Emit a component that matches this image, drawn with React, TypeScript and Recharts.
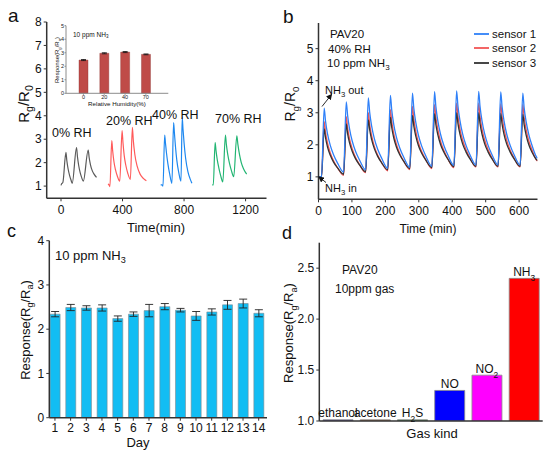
import React from "react";
import {
  LineChart,
  Line,
  BarChart,
  Bar,
  XAxis,
  YAxis,
  ErrorBar,
  Cell,
  LabelList,
  Legend,
} from "recharts";

const FONT = "'Liberation Sans', Arial, sans-serif";
const AXIS = "#333";

// ---- panel a : Rg/R0 vs time at four humidities
const rh0Time = [0, 4, 12, 32, 38, 46, 56, 65, 73, 101, 107, 115, 125, 135, 145, 177, 183, 192, 203, 216, 231];
const rh0Val = [1.03, 1.1, 1.15, 2.44, 2.08, 1.74, 1.45, 1.26, 1.12, 2.64, 2.25, 1.88, 1.56, 1.35, 1.21, 2.54, 2.22, 1.9, 1.66, 1.5, 1.37];
const rh20Time = [307, 312, 318, 330, 336, 344, 354, 366, 382, 397, 403, 411, 421, 434, 451, 464, 470, 480, 495, 515, 535, 555];
const rh20Val = [1.1, 1.05, 0.98, 2.94, 2.5, 2.05, 1.7, 1.43, 1.21, 3.37, 2.85, 2.3, 1.9, 1.55, 1.29, 3.51, 2.95, 2.35, 1.85, 1.5, 1.33, 1.23];
const rh40Time = [648, 656, 663, 674, 679, 686, 695, 707, 721, 732, 737, 744, 753, 765, 780, 788, 793, 800, 810, 825, 840, 851];
const rh40Val = [1.05, 1.05, 1.0, 3.18, 2.85, 2.4, 1.95, 1.5, 1.12, 3.71, 3.3, 2.7, 2.1, 1.6, 1.21, 3.93, 3.45, 2.85, 2.2, 1.62, 1.3, 1.12];
const rh70Time = [983, 990, 1002, 1008, 1016, 1026, 1038, 1052, 1069, 1075, 1084, 1095, 1108, 1123, 1143, 1150, 1160, 1172, 1188, 1207];
const rh70Val = [1.05, 1.05, 2.86, 2.5, 2.12, 1.78, 1.45, 1.18, 3.18, 2.78, 2.35, 1.98, 1.66, 1.4, 3.14, 2.78, 2.36, 2.0, 1.72, 1.51];
const aTicksX = [0, 400, 800, 1200];
const aTicksY = [1, 2, 3, 4, 5, 6, 7, 8];

// inset of a
const insetRh = ["0", "20", "40", "70"];
const insetResp = [2.46, 2.96, 3.05, 2.88];
const insetErr = [0.04, 0.04, 0.04, 0.03];

// ---- panel b : three sensors, repeated cycles
const bTime = [
  0, 9,
  17, 21, 27, 35, 45, 57, 75,
  83, 87, 93, 101, 111, 123, 141,
  149, 153, 159, 167, 177, 189, 207,
  215, 219, 225, 233, 243, 255, 273,
  281, 285, 291, 299, 309, 321, 339,
  347, 351, 357, 365, 375, 387, 405,
  413, 417, 423, 431, 441, 453, 471,
  479, 483, 489, 497, 507, 519, 537,
  545, 549, 555, 563, 573, 585, 603,
  611, 615, 621, 629, 639, 651, 655,
];
const sensor1 = [
  1.0, 1.0,
  3.14, 2.74, 2.34, 1.99, 1.69, 1.43, 1.15,
  3.34, 2.92, 2.49, 2.11, 1.79, 1.52, 1.22,
  3.46, 3.02, 2.58, 2.19, 1.86, 1.58, 1.27,
  3.54, 3.09, 2.64, 2.24, 1.9, 1.61, 1.3,
  3.61, 3.15, 2.7, 2.29, 1.95, 1.65, 1.33,
  3.66, 3.2, 2.74, 2.33, 1.98, 1.68, 1.36,
  3.68, 3.22, 2.76, 2.34, 1.99, 1.69, 1.37,
  3.67, 3.21, 2.75, 2.34, 1.99, 1.69, 1.37,
  3.65, 3.19, 2.74, 2.33, 1.99, 1.69, 1.37,
  3.61, 3.16, 2.72, 2.32, 1.97, 1.64, 1.58,
];
const sensor2 = [
  1.0, 1.0,
  2.72, 2.39, 2.05, 1.75, 1.5, 1.28, 1.05,
  2.88, 2.53, 2.18, 1.87, 1.6, 1.38, 1.13,
  3.0, 2.64, 2.28, 1.95, 1.68, 1.44, 1.19,
  3.1, 2.73, 2.35, 2.02, 1.73, 1.49, 1.23,
  3.2, 2.81, 2.42, 2.07, 1.78, 1.53, 1.26,
  3.25, 2.86, 2.47, 2.11, 1.82, 1.56, 1.29,
  3.3, 2.9, 2.5, 2.15, 1.85, 1.59, 1.31,
  3.3, 2.9, 2.5, 2.15, 1.85, 1.59, 1.31,
  3.28, 2.89, 2.49, 2.14, 1.84, 1.59, 1.31,
  3.25, 2.86, 2.47, 2.12, 1.83, 1.54, 1.49,
];
const sensor3 = [
  1.0, 1.0,
  2.5, 2.22, 1.93, 1.68, 1.46, 1.28, 1.08,
  2.65, 2.35, 2.05, 1.79, 1.56, 1.37, 1.16,
  2.78, 2.47, 2.16, 1.88, 1.64, 1.44, 1.22,
  2.86, 2.54, 2.22, 1.93, 1.69, 1.48, 1.26,
  2.92, 2.59, 2.27, 1.97, 1.73, 1.52, 1.29,
  2.97, 2.64, 2.31, 2.01, 1.77, 1.55, 1.32,
  3.0, 2.67, 2.33, 2.03, 1.78, 1.56, 1.33,
  3.0, 2.67, 2.33, 2.03, 1.78, 1.56, 1.33,
  2.98, 2.65, 2.32, 2.02, 1.78, 1.56, 1.33,
  2.96, 2.63, 2.3, 2.0, 1.76, 1.55, 1.51,
];
const bTicksX = [0, 100, 200, 300, 400, 500, 600];
const bTicksY = [1, 2, 3, 4, 5];

// ---- panel c : 14 days stability
const days = [1, 2, 3, 4, 5, 6, 7, 8, 9, 10, 11, 12, 13, 14];
const dayResp = [2.34, 2.49, 2.48, 2.48, 2.24, 2.34, 2.42, 2.51, 2.43, 2.3, 2.39, 2.55, 2.58, 2.36];
const dayErr = [0.06, 0.07, 0.05, 0.07, 0.06, 0.05, 0.14, 0.07, 0.04, 0.1, 0.07, 0.1, 0.1, 0.08];
const cTicksY = [0, 1, 2, 3, 4];

// ---- panel d : selectivity
const gasKinds = ["ethanol", "acetone", "H2S", "NO", "NO2", "NH3"];
const gasResp = [1.012, 1.012, 1.012, 1.3, 1.45, 2.4];
const gasColors = ["#3d2fa8", "#b8662e", "#2f8f3f", "#0000ff", "#ff00ff", "#ff0000"];
const dTicksY = [1.0, 1.5, 2.0, 2.5];

const zip = (ts: number[], vs: number[]) => ts.map((t, i) => ({ t, v: vs[i] }));

const aSeries = [
  { name: "0% RH", color: "#5a5a5a", rows: zip(rh0Time, rh0Val) },
  { name: "20% RH", color: "#ff5a5a", rows: zip(rh20Time, rh20Val) },
  { name: "40% RH", color: "#1e88f0", rows: zip(rh40Time, rh40Val) },
  { name: "70% RH", color: "#22b573", rows: zip(rh70Time, rh70Val) },
];
const insetRows = insetRh.map((rh, i) => ({ rh, v: insetResp[i], err: insetErr[i] }));
const bRows = bTime.map((t, i) => ({ t, s1: sensor1[i], s2: sensor2[i], s3: sensor3[i] }));
const bSeries = [
  { key: "s2", name: "sensor 2", color: "#f25555" },
  { key: "s3", name: "sensor 3", color: "#333333" },
  { key: "s1", name: "sensor 1", color: "#2f80f8" },
];
const legendOrder = ["s1", "s2", "s3"];
const cRows = days.map((day, i) => ({ day, v: dayResp[i], err: dayErr[i] }));
const dRows = gasKinds.map((gas, i) => ({ gas, v: gasResp[i] }));

const tickStyle = { fontSize: 12, fill: "#111" };
const axisLine = { stroke: AXIS, strokeWidth: 1.5 };
const frameProps = { tick: false, tickLine: false, axisLine };

const chem = (s: string) =>
  s.split(/(\d+)/).map((p, i) =>
    /\d/.test(p) ? (
      <tspan key={i} baselineShift="sub" fontSize="70%">
        {p}
      </tspan>
    ) : (
      p
    )
  );

const Sub = ({ children }: { children: React.ReactNode }) => (
  <tspan baselineShift="sub" fontSize="70%">
    {children}
  </tspan>
);

type TProps = {
  x: number;
  y: number;
  size: number;
  anchor?: "start" | "middle" | "end";
  rotate?: boolean;
  base?: boolean;
  children: React.ReactNode;
};
const T = ({ x, y, size, anchor = "start", rotate, base, children }: TProps) => (
  <text
    x={x}
    y={y}
    fontSize={size}
    textAnchor={anchor}
    dominantBaseline={base ? "auto" : "central"}
    fill="#111"
    transform={rotate ? `rotate(-90 ${x} ${y})` : undefined}
  >
    {children}
  </text>
);

const renderGasLabel = (props: any) => {
  const { x, y, width, value } = props;
  return (
    <text x={Number(x) + Number(width) / 2} y={Number(y) - 2.5} textAnchor="middle" fontSize={12} fill="#111">
      {chem(String(value))}
    </text>
  );
};

function PanelA() {
  return (
    <LineChart width={275} height={220} margin={{ top: 22, right: 8.5, bottom: 1.7, left: 0 }}>
      <XAxis dataKey="t" type="number" domain={[-93, 1336]} ticks={aTicksX} allowDataOverflow
        height={20} tick={tickStyle} tickSize={3} tickMargin={4} axisLine={axisLine} tickLine={{ stroke: AXIS }} />
      <YAxis type="number" domain={[0.48, 8]} ticks={aTicksY} allowDataOverflow width={46.7}
        tick={tickStyle} tickSize={3} tickMargin={2} axisLine={axisLine} tickLine={{ stroke: AXIS }} />
      <XAxis xAxisId="top" orientation="top" dataKey="t" type="number" domain={[-93, 1336]} height={0} {...frameProps} />
      <YAxis yAxisId="r" orientation="right" type="number" domain={[0.48, 8]} width={0} {...frameProps} />
      {aSeries.map((s) => (
        <Line key={s.name} data={s.rows} dataKey="v" name={s.name} type="monotoneX" stroke={s.color}
          strokeWidth={1.2} dot={false} isAnimationActive={false} />
      ))}
    </LineChart>
  );
}

function Inset() {
  const frame = { stroke: "#8c8c8c", strokeWidth: 1 };
  const small = { fontSize: 5.5, fill: "#222" };
  return (
    <BarChart width={122} height={90} data={insetRows} margin={{ top: 5.7, right: 3.7, bottom: 8.7, left: 0 }}>
      <XAxis dataKey="rh" padding={{ left: 7, right: 12 }} height={8} tick={small} tickSize={1.5}
        tickMargin={0} axisLine={frame} tickLine={{ stroke: "#8c8c8c" }} />
      <YAxis type="number" domain={[0, 5]} ticks={[0, 1, 2, 3, 4, 5]} width={16} tick={small}
        tickSize={1.5} tickMargin={0.5} axisLine={frame} tickLine={{ stroke: "#8c8c8c" }} />
      <XAxis xAxisId="top" orientation="top" dataKey="rh" height={0} tick={false} tickLine={false} axisLine={frame} />
      <YAxis yAxisId="r" orientation="right" domain={[0, 5]} width={0} tick={false} tickLine={false} axisLine={frame} />
      <Bar dataKey="v" barSize={9} fill="#bf4b48" stroke="#8e3432" strokeWidth={0.4} isAnimationActive={false}>
        <ErrorBar dataKey="err" width={2.5} stroke="#111" strokeWidth={0.8} direction="y" />
      </Bar>
    </BarChart>
  );
}

function PanelB() {
  return (
    <LineChart width={275} height={220} data={bRows} margin={{ top: 23, right: 12.5, bottom: 0.7, left: 0 }}>
      <XAxis dataKey="t" type="number" domain={[0, 655]} ticks={bTicksX} allowDataOverflow height={20}
        tick={tickStyle} tickSize={3} tickMargin={4} axisLine={axisLine} tickLine={{ stroke: AXIS }} />
      <YAxis type="number" domain={[0.3, 5.8]} ticks={bTicksY} allowDataOverflow width={43.5}
        tick={tickStyle} tickSize={3} tickMargin={2} axisLine={axisLine} tickLine={{ stroke: AXIS }} />
      <XAxis xAxisId="top" orientation="top" dataKey="t" type="number" domain={[0, 655]} height={0} {...frameProps} />
      <YAxis yAxisId="r" orientation="right" type="number" domain={[0.3, 5.8]} width={0} {...frameProps} />
      <Legend
        layout="vertical"
        align="center"
        verticalAlign="middle"
        wrapperStyle={{ top: 26.5, left: 199, width: 76, height: 44 }}
        content={() => (
          <div style={{ fontFamily: FONT, fontSize: 11.5, color: "#111" }}>
            {legendOrder.map((k) => {
              const s = bSeries.find((b) => b.key === k)!;
              return (
                <div key={k} style={{ display: "flex", alignItems: "center", height: 14.5 }}>
                  <svg width={15} height={6} style={{ marginRight: 3 }}>
                    <line x1={0} y1={3} x2={15} y2={3} stroke={s.color} strokeWidth={1.8} />
                  </svg>
                  {s.name}
                </div>
              );
            })}
          </div>
        )}
      />
      {bSeries.map((s) => (
        <Line key={s.key} dataKey={s.key} name={s.name} type="monotoneX" stroke={s.color}
          strokeWidth={1.3} dot={false} isAnimationActive={false} />
      ))}
    </LineChart>
  );
}

function PanelC() {
  return (
    <BarChart width={275} height={235} data={cRows} margin={{ top: 20.7, right: 8, bottom: 17.3, left: 0 }}>
      <XAxis dataKey="day" type="number" domain={[0.64, 14.53]} ticks={days} interval={0} allowDataOverflow
        height={20} tick={tickStyle} tickSize={3} tickMargin={3} axisLine={axisLine} tickLine={{ stroke: AXIS }} />
      <YAxis type="number" domain={[0, 4]} ticks={cTicksY} allowDataOverflow width={49.3}
        tick={tickStyle} tickSize={3} tickMargin={2} axisLine={axisLine} tickLine={{ stroke: AXIS }} />
      <XAxis xAxisId="top" orientation="top" dataKey="day" type="number" domain={[0.64, 14.53]} height={0} {...frameProps} />
      <YAxis yAxisId="r" orientation="right" type="number" domain={[0, 4]} width={0} {...frameProps} />
      <Bar dataKey="v" barSize={10} fill="#12bdf3" stroke="#7d8a90" strokeWidth={0.6} isAnimationActive={false}>
        <ErrorBar dataKey="err" width={4} stroke="#222" strokeWidth={0.9} direction="y" />
      </Bar>
    </BarChart>
  );
}

function PanelD() {
  return (
    <BarChart width={275} height={235} data={dRows} barCategoryGap="10%"
      margin={{ top: 22.7, right: 7.3, bottom: 14, left: 0 }}>
      <XAxis dataKey="gas" height={20} tick={false} tickLine={false} axisLine={axisLine} />
      <YAxis type="number" domain={[1, 2.75]} ticks={dTicksY} allowDataOverflow width={44.3}
        tickFormatter={(v: number) => v.toFixed(1)} tick={tickStyle} tickSize={3} tickMargin={2}
        axisLine={axisLine} tickLine={{ stroke: AXIS }} />
      <XAxis xAxisId="top" orientation="top" dataKey="gas" height={0} {...frameProps} />
      <YAxis yAxisId="r" orientation="right" type="number" domain={[1, 2.75]} width={0} {...frameProps} />
      <Bar dataKey="v" stroke="#8a8a8a" strokeWidth={0.8} isAnimationActive={false}>
        {dRows.map((r, i) => (
          <Cell key={r.gas} fill={gasColors[i]} />
        ))}
        <LabelList dataKey="gas" content={renderGasLabel} />
      </Bar>
    </BarChart>
  );
}

function Overlay() {
  return (
    <svg width={550} height={455} style={{ position: "absolute", left: 0, top: 0, pointerEvents: "none" }} fontFamily={FONT}>
      <defs>
        <marker id="arr" markerWidth={6} markerHeight={6} refX={5} refY={3} orient="auto" markerUnits="userSpaceOnUse">
          <path d="M0,0 L6,3 L0,6 z" fill="#111" />
        </marker>
      </defs>
      {/* panel letters */}
      <T x={8} y={21.7} size={19} base>a</T>
      <T x={283} y={23} size={19} base>b</T>
      <T x={7} y={237} size={18} base>c</T>
      <T x={282} y={238.5} size={18} base>d</T>

      {/* a */}
      <T x={23} y={104} size={15} anchor="middle" rotate>
        R<Sub>g</Sub>/R<Sub>0</Sub>
      </T>
      <T x={156} y={227} size={13} anchor="middle">Time(min)</T>
      <T x={52} y={133} size={12.5}>0% RH</T>
      <T x={106} y={121} size={12.5}>20% RH</T>
      <T x={152} y={115} size={12.5}>40% RH</T>
      <T x={215} y={119} size={12.5}>70% RH</T>
      <T x={73} y={34} size={6.5}>
        10 ppm NH<Sub>3</Sub>
      </T>
      <T x={117} y={103.6} size={6.2} anchor="middle">Relative Humidity(%)</T>
      <T x={56.7} y={60} size={6} anchor="middle" rotate>
        Response(R<Sub>g</Sub>/R<Sub>a</Sub>)
      </T>

      {/* b */}
      <T x={290} y={104} size={14} anchor="middle" rotate>
        R<Sub>g</Sub>/R<Sub>0</Sub>
      </T>
      <T x={330} y={34} size={11.5}>PAV20</T>
      <T x={328} y={49} size={11.5}>40% RH</T>
      <T x={327} y={63} size={11.5}>
        10 ppm NH<Sub>3</Sub>
      </T>
      <T x={325} y={90} size={11}>
        NH<Sub>3</Sub> out
      </T>
      <T x={325} y={188} size={11}>
        NH<Sub>3</Sub> in
      </T>
      <line x1={322} y1={106.5} x2={331.5} y2={94.5} stroke="#111" strokeWidth={0.9} markerEnd="url(#arr)" />
      <line x1={326} y1={182.5} x2={319} y2={177} stroke="#111" strokeWidth={0.9} markerEnd="url(#arr)" />
      <T x={428} y={229} size={12} anchor="middle">Time (min)</T>

      {/* c */}
      <T x={25} y={330} size={13} anchor="middle" rotate>
        Response(R<Sub>g</Sub>/R<Sub>a</Sub>)
      </T>
      <T x={55} y={255} size={13}>
        10 ppm NH<Sub>3</Sub>
      </T>
      <T x={138} y={442} size={13} anchor="middle">Day</T>

      {/* d */}
      <T x={288.5} y={333} size={13} anchor="middle" rotate>
        Response(R<Sub>g</Sub>/R<Sub>a</Sub>)
      </T>
      <T x={342} y={270} size={12}>PAV20</T>
      <T x={335} y={289} size={12}>10ppm gas</T>
      <T x={432} y={433} size={13} anchor="middle">Gas kind</T>
    </svg>
  );
}

export default function App() {
  return (
    <div style={{ position: "absolute", left: 0, top: 0, width: 550, height: 455, background: "#fff", fontFamily: FONT }}>
      <div style={{ position: "absolute", left: 0, top: 0 }}>
        <PanelA />
      </div>
      <div style={{ position: "absolute", left: 50, top: 20 }}>
        <Inset />
      </div>
      <div style={{ position: "absolute", left: 275, top: 0 }}>
        <PanelB />
      </div>
      <div style={{ position: "absolute", left: 0, top: 220 }}>
        <PanelC />
      </div>
      <div style={{ position: "absolute", left: 275, top: 220 }}>
        <PanelD />
      </div>
      <Overlay />
    </div>
  );
}
